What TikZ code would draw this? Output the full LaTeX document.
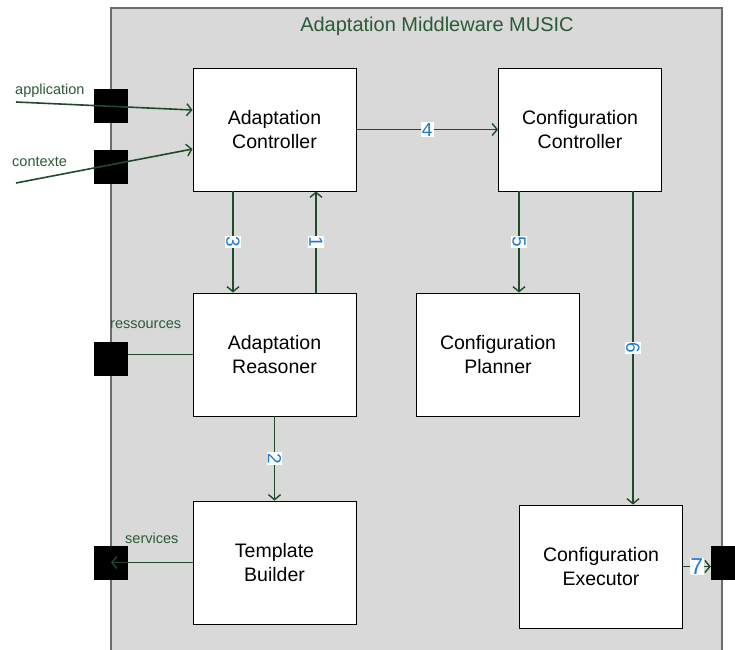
\documentclass[tikz,border=0pt]{standalone}
\usepackage{fontspec}
\setmainfont{Liberation Sans}
\usetikzlibrary{arrows.meta}
\definecolor{lgreen}{HTML}{1F4A2C}
\definecolor{tgreen}{HTML}{2B5A36}
\definecolor{nblue}{HTML}{1C7AD0}
\definecolor{panel}{HTML}{D9D9D9}
\begin{document}
\begin{tikzpicture}[x=1pt,y=-1pt,
  box/.style={draw=black,fill=white,line width=0.9pt,minimum width=163pt,minimum height=123pt,inner sep=0pt,align=center,font=\fontsize{19.5}{24}\selectfont},
  port/.style={fill=black,draw=none,minimum size=34pt,inner sep=0pt},
  conn/.style={draw=lgreen,line width=1.6pt},
  arr/.style={conn,-{Straight Barb[length=5pt,width=12pt,line width=1.4pt]}},
  num/.style={fill=white,text=nblue,inner sep=1.2pt,font=\fontsize{19}{19}\selectfont},
  vnum/.style={num,rotate=-90},
  lbl/.style={text=tgreen,font=\fontsize{14.5}{15}\selectfont,inner sep=0pt}]
\useasboundingbox (0,0) rectangle (735,649);
\clip (0,0) rectangle (735,649);
\draw[fill=panel,draw=gray!85!black,line width=1.3pt] (111,8) rectangle (722,670);
\node[text=tgreen,font=\fontsize{20}{20}\selectfont] (title) at (437,26) {Adaptation Middleware MUSIC};
% boxes
\node[box] (AC) at (274.5,129.5) {Adaptation\\Controller};
\node[box] (CC) at (580,129.5) {Configuration\\Controller};
\node[box] (AR) at (274.5,354.5) {Adaptation\\Reasoner};
\node[box] (CP) at (498,354.5) {Configuration\\Planner};
\node[box] (TB) at (274.5,562.5) {Template\\Builder};
\node[box] (CE) at (601,566.5) {Configuration\\Executor};
% ports
\node[port] (pApp) at (111,105.5) {};
\node[port] (pCtx) at (111,166.5) {};
\node[port] (pRes) at (111,358.5) {};
\node[port] (pSrv) at (111,562.5) {};
\node[port] (pOut) at (728,562.5) {};
% port labels
\node[lbl,anchor=base west] (lApp) at (15,94) {application};
\node[lbl,anchor=base west] (lCtx) at (12,166) {contexte};
\node[lbl,anchor=base west] (lRes) at (110,328) {ressources};
\node[lbl,anchor=base west] (lSrv) at (125,543) {services};
% external arrows
\coordinate (appS) at (16,102);
\coordinate (ctxS) at (16,183);
\draw[arr] (appS) -- ([yshift=19.5pt]AC.west);
\draw[arr] (ctxS) -- ([yshift=-19.5pt]AC.west);
\draw[conn] (AR.west) -- (AR.west -| pRes.east);
\draw[arr] (TB.west) -- (TB.west -| pSrv.center);
% internal arrows
\draw[arr] (AC.east) -- node[num] {4} (CC.west);
\draw[arr] ([xshift=-41.5pt]AC.south) -- node[vnum] {3} ([xshift=-41.5pt]AC.south |- AR.north);
\draw[arr] ([xshift=41.5pt]AR.north) -- node[vnum] {1} ([xshift=41.5pt]AR.north |- AC.south);
\draw[arr] ([xshift=-61pt]CC.south) -- node[vnum] {5} ([xshift=-61pt]CC.south |- CP.north);
\draw[arr] ([xshift=53pt]CC.south) -- node[vnum] {6} ([xshift=53pt]CC.south |- CE.north);
\draw[arr] (AR.south) -- node[vnum] {2} (TB.north);
\draw[arr] (CE.east) -- node[num,font=\fontsize{23}{23}\selectfont,inner sep=0.5pt] {7} (CE.east -| pOut.west);
\end{tikzpicture}
\end{document}
